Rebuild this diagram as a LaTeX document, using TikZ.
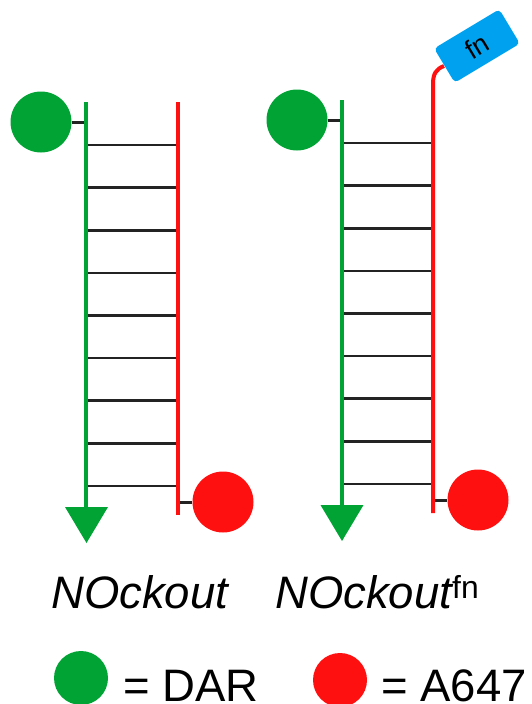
\documentclass[tikz,border=0pt]{standalone}
\usepackage{fontspec}
\setmainfont{Liberation Sans}
\definecolor{dgreen}{RGB}{0,163,52}
\definecolor{dred}{RGB}{255,16,16}
\definecolor{tagblue}{RGB}{0,162,240}
\definecolor{rungc}{RGB}{35,35,35}
\begin{document}
\begin{tikzpicture}[x=1pt,y=-1pt,
  dye/.style={circle,inner sep=0pt,minimum size=61pt},
  gdye/.style={dye,fill=dgreen},
  rdye/.style={dye,fill=dred},
  ldye/.style={circle,inner sep=0pt,minimum size=54pt},
  gstrand/.style={draw=dgreen,line width=4pt},
  rstrand/.style={draw=dred,line width=4pt},
  rung/.style={draw=rungc,line width=2.6pt},
  stub/.style={draw=rungc,line width=3pt},
  lbl/.style={inner sep=0pt,font=\fontsize{45.5}{50}\selectfont},
]
\useasboundingbox (0,0) rectangle (531,704);
% ---------- left duplex ----------
\coordinate (LGt) at (86,102);
\coordinate (LGb) at (86,510);
\coordinate (LRt) at (178,102);
\coordinate (LRb) at (178,515);
\node[gdye] (LGd) at (41,122) {};
\node[rdye] (LRd) at (223,502) {};
\draw[stub] (LGd.east) -- (LGd.east -| LGt);
\draw[stub] (LRd.west) -- (LRd.west -| LRt);
\foreach \i in {0,...,8}{
  \coordinate (lr\i) at (88,{145+\i*42.6});
  \draw[rung] (lr\i) -- (lr\i -| LRt);
}
\draw[gstrand] (LGt) -- (LGb);
\draw[rstrand] (LRt) -- (LRb);
\fill[dgreen] (65,507) -- (108,507) -- (86.5,543) -- cycle;
% ---------- right duplex ----------
\coordinate (RGt) at (342,100);
\coordinate (RGb) at (342,508);
\coordinate (RRb) at (433,513);
\coordinate (RRt) at (433,84);
\node[gdye] (RGd) at (297,120) {};
\node[rdye] (RRd) at (478,500) {};
\node[fill=tagblue,rounded corners=4pt,rotate=31,minimum width=76pt,minimum height=40pt,inner sep=0pt,font=\fontsize{27}{29}\selectfont] (tag) at (477,46) {fn};
\coordinate (tagin) at (444,66);
\draw[stub] (RGd.east) -- (RGd.east -| RGt);
\draw[stub] (RRd.west) -- (RRd.west -| RRb);
\foreach \i in {0,...,8}{
  \coordinate (rr\i) at (344,{143+\i*42.6});
  \draw[rung] (rr\i) -- (rr\i -| RRb);
}
\draw[gstrand] (RGt) -- (RGb);
\draw[rstrand] (RRb) -- (RRt) .. controls (433,74) and (436,69) .. (tagin);
\fill[dgreen] (320.5,505) -- (363.5,505) -- (342,541) -- cycle;
% ---------- labels ----------
\node[lbl,anchor=base west] (lab1) at (51,608) {\itshape NOckout};
\node[lbl,anchor=base west] (lab2) at (275,608) {\itshape NOckout\upshape\textsuperscript{fn}};
% ---------- legend ----------
\node[ldye,fill=dgreen] (legG) at (81,678) {};
\node[lbl,anchor=base west] (legGt) at (123,701) {= DAR};
\node[ldye,fill=dred] (legR) at (340,680) {};
\node[lbl,anchor=base west] (legRt) at (381,701) {= A647};
\end{tikzpicture}
\end{document}
